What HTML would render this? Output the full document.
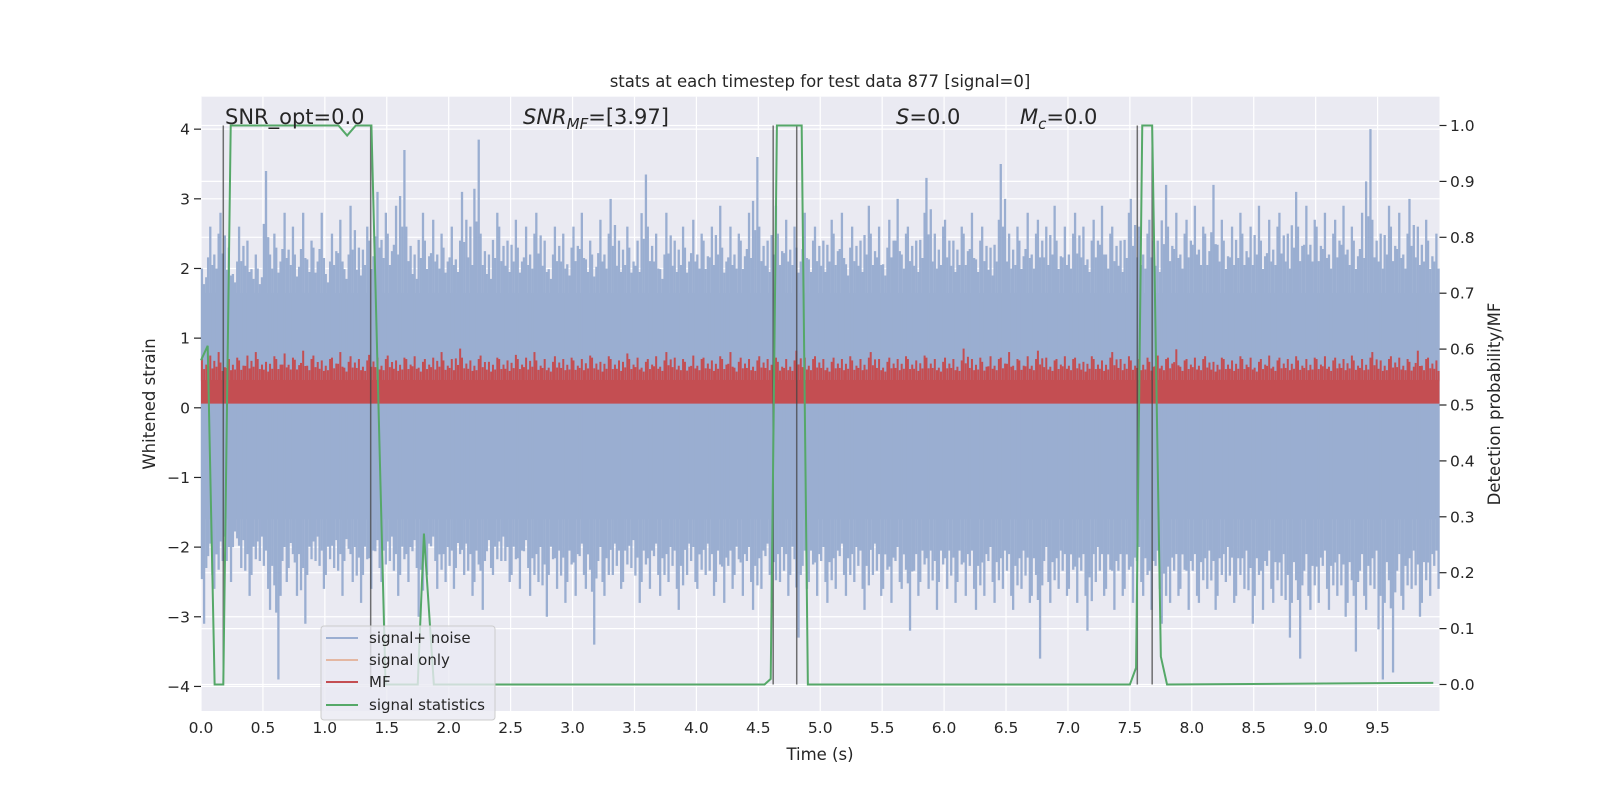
<!DOCTYPE html>
<html><head><meta charset="utf-8"><style>
html,body{margin:0;padding:0;background:#fff;}
svg text{font-family:"DejaVu Sans","Liberation Sans",sans-serif;fill:#262626;}
</style></head><body>
<svg id="chart" width="1600" height="800" xmlns="http://www.w3.org/2000/svg">
<rect x="201" y="96.7" width="1238.5" height="614.3" fill="#eaeaf2"/>
<g id="grid"></g>
<g id="noise"></g>
<g id="mf"></g>
<g id="vlines"></g>
<g id="green"></g>
<g id="axes"></g>
<text x="820" y="87" font-size="16.5" text-anchor="middle">stats at each timestep for test data 877 [signal=0]</text>
<text x="225" y="124" font-size="21">SNR_opt=0.0</text>
<text x="523" y="124" font-size="21"><tspan font-style="italic">SNR</tspan><tspan font-style="italic" font-size="15" dy="5">MF</tspan><tspan dy="-5">=[3.97]</tspan></text>
<text x="896" y="124" font-size="21"><tspan font-style="italic">S</tspan>=0.0</text>
<text x="1020" y="124" font-size="21"><tspan font-style="italic">M</tspan><tspan font-style="italic" font-size="15" dy="5">c</tspan><tspan dy="-5">=0.0</tspan></text>
<text x="820" y="760" font-size="16.5" text-anchor="middle">Time (s)</text>
<text x="155" y="404" font-size="16.5" text-anchor="middle" transform="rotate(-90 155 404)">Whitened strain</text>
<text x="1500" y="404" font-size="16.5" text-anchor="middle" transform="rotate(-90 1500 404)">Detection probability/MF</text>
<g>
<rect x="321" y="626" width="174" height="94" rx="3" fill="#eaeaf2" fill-opacity="0.8" stroke="#ccc"/>
<line x1="326" y1="638" x2="358" y2="638" stroke="#4c72b0" stroke-opacity="0.5" stroke-width="2"/>
<text x="369" y="643" font-size="15">signal+ noise</text>
<line x1="326" y1="660" x2="358" y2="660" stroke="#dd8452" stroke-opacity="0.5" stroke-width="2"/>
<text x="369" y="665" font-size="15">signal only</text>
<line x1="326" y1="682" x2="358" y2="682" stroke="#c44e52" stroke-width="2"/>
<text x="369" y="687" font-size="15">MF</text>
<line x1="326" y1="705" x2="358" y2="705" stroke="#55a868" stroke-width="2"/>
<text x="369" y="710" font-size="15">signal statistics</text>
</g>
</svg>
<script>
const noiseHi=[2.0,2.6,2.5,2.8,2.3,2.1,2.6,2.4,2.2,2.0,3.4,2.5,2.3,2.8,2.6,2.2,2.8,2.4,2.3,2.8,
2.1,2.5,2.7,2.2,2.9,2.3,2.6,2.4,3.1,2.8,2.5,2.9,3.7,2.6,2.2,2.8,2.4,2.7,2.5,2.3,
2.6,2.4,3.1,2.6,3.85,2.5,2.2,2.8,2.6,2.4,2.7,2.3,2.6,2.5,2.8,2.4,2.2,2.6,2.5,2.3,
2.6,2.8,2.4,2.2,2.7,2.5,3.0,2.4,2.6,2.3,2.4,3.35,2.6,2.5,2.2,2.8,2.4,2.6,2.3,2.7,
2.5,2.4,2.6,2.9,2.3,2.6,2.5,2.4,2.8,3.6,2.6,2.4,2.9,2.5,2.7,2.6,2.3,2.8,2.4,2.6,
2.4,2.7,2.5,2.8,2.3,2.6,2.4,2.9,2.5,2.6,2.3,2.7,3.0,2.5,2.6,2.4,2.8,3.3,2.5,2.6,
2.7,2.4,2.6,2.5,2.8,2.4,2.6,2.3,2.7,3.5,2.5,2.6,2.4,2.8,2.5,2.7,2.6,2.9,2.4,2.6,
2.5,2.8,2.6,2.4,2.7,2.9,2.5,2.6,2.4,2.8,3.0,2.6,2.5,2.7,2.4,3.2,2.6,2.8,2.5,2.7,
2.9,2.6,2.5,3.2,2.7,2.4,2.6,2.8,2.5,2.6,2.9,2.4,2.7,2.6,2.8,2.5,3.1,2.6,2.9,2.7,
2.6,2.8,2.5,2.7,2.9,2.6,2.4,2.8,4.0,2.7,2.5,2.9,2.6,2.8,2.5,3.0,2.6,2.7,2.4,2.5];
const noiseLo=[-3.1,-2.4,-2.6,-2.2,-2.5,-2.0,-2.3,-2.7,-2.4,-2.2,-2.6,-2.9,-3.9,-2.5,-2.3,-2.7,-3.1,-2.4,-2.2,-2.6,
-2.4,-2.3,-2.7,-2.2,-2.5,-2.8,-2.4,-2.6,-2.3,-2.5,-2.2,-2.7,-2.4,-2.5,-2.3,-3.0,-2.4,-2.2,-2.6,-2.5,
-2.6,-2.3,-2.4,-2.7,-2.5,-2.9,-2.3,-2.4,-2.2,-2.5,-2.4,-2.6,-2.3,-2.7,-2.5,-3.0,-2.4,-2.6,-2.8,-2.5,
-2.7,-2.4,-2.6,-3.4,-2.5,-2.7,-2.4,-2.6,-2.5,-2.3,-2.8,-2.5,-2.6,-2.4,-2.7,-2.5,-2.6,-2.9,-2.4,-2.5,
-2.6,-2.4,-2.7,-2.5,-2.8,-2.6,-2.4,-2.7,-2.5,-2.9,-2.6,-2.4,-2.8,-2.5,-2.7,-2.4,-3.3,-2.6,-2.5,-2.7,
-2.5,-2.8,-2.6,-2.4,-2.7,-2.5,-2.6,-2.9,-2.4,-2.7,-2.6,-2.8,-2.5,-2.6,-3.2,-2.7,-2.5,-2.6,-2.9,-2.5,
-2.6,-2.8,-2.5,-2.7,-2.6,-2.9,-2.7,-2.5,-2.8,-2.6,-2.7,-2.9,-2.6,-2.8,-2.7,-3.6,-2.5,-2.8,-2.6,-2.7,
-2.6,-2.8,-2.7,-3.2,-2.5,-2.7,-2.6,-2.9,-2.7,-2.6,-2.8,-2.5,-2.7,-2.9,-2.6,-3.1,-2.8,-2.7,-2.6,-2.9,
-2.7,-2.8,-2.6,-2.9,-2.7,-2.5,-2.8,-2.7,-2.6,-3.1,-2.7,-2.9,-2.6,-2.8,-2.7,-3.3,-2.8,-3.6,-2.7,-2.9,
-2.8,-2.6,-2.9,-2.7,-3.0,-2.8,-3.5,-2.7,-2.9,-2.6,-3.9,-2.8,-3.8,-2.7,-2.9,-2.6,-3.0,-2.8,-2.7,-2.6];
const mfHi=[0.7,0.75,0.8,0.65,0.7,0.72,0.68,0.75,0.8,0.7,0.66,0.74,0.7,0.78,0.72,0.69,0.82,0.7,0.75,0.68,
0.7,0.72,0.8,0.66,0.74,0.7,0.68,0.76,0.72,0.7,0.75,0.68,0.72,0.7,0.74,0.66,0.7,0.72,0.8,0.68,
0.7,0.85,0.72,0.68,0.7,0.75,0.66,0.72,0.7,0.68,0.76,0.7,0.72,0.8,0.68,0.7,0.66,0.74,0.7,0.72,
0.68,0.7,0.75,0.72,0.66,0.74,0.7,0.68,0.78,0.7,0.72,0.66,0.7,0.74,0.68,0.8,0.72,0.7,0.66,0.75,
0.7,0.72,0.68,0.74,0.7,0.8,0.66,0.72,0.7,0.68,0.74,0.7,0.72,0.66,0.7,0.68,0.82,0.72,0.7,0.74,
0.7,0.66,0.72,0.7,0.74,0.68,0.7,0.72,0.8,0.7,0.66,0.72,0.7,0.74,0.7,0.68,0.75,0.72,0.7,0.66,
0.72,0.7,0.68,0.85,0.7,0.72,0.66,0.74,0.7,0.72,0.8,0.7,0.68,0.74,0.7,0.82,0.72,0.68,0.7,0.74,
0.7,0.72,0.66,0.74,0.7,0.68,0.72,0.8,0.7,0.74,0.68,0.7,0.72,0.66,0.75,0.7,0.72,0.84,0.68,0.7,
0.72,0.7,0.74,0.66,0.72,0.7,0.68,0.74,0.7,0.72,0.66,0.7,0.75,0.68,0.72,0.7,0.74,0.68,0.7,0.72,
0.7,0.74,0.68,0.72,0.7,0.75,0.68,0.7,0.72,0.8,0.68,0.7,0.74,0.72,0.7,0.66,0.82,0.7,0.72,0.68];
const mfLo=0.06;
const greenT=[0,0.054,0.11,0.18,0.24,1.11,1.18,1.25,1.376,1.49,1.75,1.8,1.88,4.55,4.6,4.65,4.85,4.9,7.5,7.55,7.6,7.68,7.75,7.8,9.95];
const greenP=[0.58,0.606,0,0,1.0,1.0,0.982,1.0,1.0,0,0,0.27,0,0,0.01,1.0,1.0,0.0,0,0.03,1.0,1.0,0.05,0,0.003];
const eventT=[0.18,1.37,4.62,4.81,7.56,7.68];
const xTicks=[0,0.5,1,1.5,2,2.5,3,3.5,4,4.5,5,5.5,6,6.5,7,7.5,8,8.5,9,9.5];
const yLeftTicks=[-4,-3,-2,-1,0,1,2,3,4];
const yRightTicks=[0,0.1,0.2,0.3,0.4,0.5,0.6,0.7,0.8,0.9,1.0];

const NS="http://www.w3.org/2000/svg";
const X=t=>201+123.85*t, YL=v=>407.8-69.66*v, YR=p=>684.5-559*p;
function mk(tag,parent,attrs){const e=document.createElementNS(NS,tag);for(const k in attrs)e.setAttribute(k,attrs[k]);parent.appendChild(e);return e;}
const grid=document.getElementById('grid'),axes=document.getElementById('axes');
xTicks.forEach(t=>{
  const l=mk('line',grid,{x1:X(t),x2:X(t),y1:96.7,y2:711,stroke:'#fff','stroke-width':1.2});
  
  
  const tx=mk('text',axes,{x:X(t),y:733,'font-size':15.5,'text-anchor':'middle'});tx.textContent=t.toFixed(1);
  
  
});
yLeftTicks.forEach(v=>{
  const l=mk('line',grid,{x1:201,x2:1439.5,y1:YL(v),y2:YL(v),stroke:'#fff','stroke-width':1.2});
  
  
  mk('line',axes,{x1:194,x2:201,y1:YL(v),y2:YL(v),stroke:'#262626','stroke-width':1.2});
  const tx=mk('text',axes,{x:190,y:YL(v)+5.5,'font-size':15.5,'text-anchor':'end'});tx.textContent=v<0?'\u2212'+Math.abs(v):String(v);
  
  
});
yRightTicks.forEach(p=>{
  const l=mk('line',grid,{x1:201,x2:1439.5,y1:YR(p),y2:YR(p),stroke:'#fff','stroke-width':1.2});
  
  
  mk('line',axes,{x1:1439.5,x2:1446.5,y1:YR(p),y2:YR(p),stroke:'#262626','stroke-width':1.2});
  const tx=mk('text',axes,{x:1450,y:YR(p)+5.5,'font-size':15.5});tx.textContent=p.toFixed(1);
  
  
});
const noise=document.getElementById('noise'),bw=10/noiseHi.length,BC='#9aaed1';
mk('rect',noise,{x:X(0),y:YL(1.65),width:X(10)-X(0),height:YL(-1.6)-YL(1.65),fill:BC});
const offs=[0.15,0.5,0.85],fr=[[1,0.55,0.75],[0.6,1,0.5],[0.7,0.5,1]];
noiseHi.forEach((h,i)=>{
  const t=i*bw, lo=noiseLo[i], f=fr[i%3], g=fr[(i+1)%3];
  offs.forEach((o,k)=>{
    const xc=X(t+bw*o);
    const s=mk('line',noise,{x1:xc,x2:xc,y1:YL(1.5+(h-1.5)*f[k]),y2:YL(-1.5+(lo+1.5)*g[k]),stroke:BC,'stroke-width':2.3});
    
    
  });
});
const mf=document.getElementById('mf'),mbw=10/mfHi.length,RC='#c44e52';
mk('rect',mf,{x:X(0),y:YL(0.4),width:X(10)-X(0),height:YL(mfLo)-YL(0.4),fill:RC});
mfHi.forEach((h,i)=>{
  const t=i*mbw, f=fr[i%3];
  offs.forEach((o,k)=>{
    const xc=X(t+mbw*o);
    const r=mk('line',mf,{x1:xc,x2:xc,y1:YL(0.38+(h-0.38)*f[k]),y2:YL(0.38),stroke:RC,'stroke-width':2});
    
    
  });
});
const vl=document.getElementById('vlines');
eventT.forEach(t=>{
  const l=mk('line',vl,{x1:X(t),x2:X(t),y1:YR(1),y2:YR(0),stroke:'#444','stroke-opacity':0.75,'stroke-width':1.5});
  
  
});
const g=document.getElementById('green');
const pl=mk('polyline',g,{points:greenT.map((t,i)=>X(t)+','+YR(greenP[i])).join(' '),fill:'none',stroke:'#55a868','stroke-width':2});


</script>
</body></html>
